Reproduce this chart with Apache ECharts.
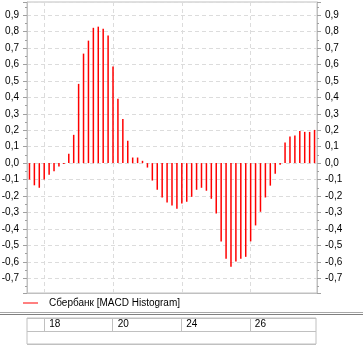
<!DOCTYPE html>
<html><head><meta charset="utf-8">
<script src="https://cdn.jsdelivr.net/npm/echarts@6/dist/echarts.min.js"></script>
<style>html,body{margin:0;padding:0;background:#fff}#c{width:363px;height:350px}</style>
</head><body><div id="c"></div>
<script>
const seriesName = 'Сбербанк [MACD Histogram]';
const histogram = [
  -0.100, -0.135, -0.150, -0.100, -0.070, -0.050, -0.020, -0.005, 0.057, 0.172,
   0.482,  0.666,  0.745,  0.823,  0.830,  0.818,  0.776,  0.587, 0.391, 0.269,
   0.136,  0.034,  0.034,  0.014, -0.027, -0.106, -0.162, -0.209, -0.239, -0.258,
  -0.278, -0.245, -0.235, -0.205, -0.162, -0.150, -0.168, -0.217, -0.306, -0.476,
  -0.582, -0.630, -0.598, -0.582, -0.570, -0.476, -0.379, -0.296, -0.209, -0.137,
  -0.064, -0.010,  0.125,  0.162,  0.168,  0.196,  0.190,  0.190, 0.202
];
const categories = histogram.map((_, i) => 'bar' + (i + 1));
const dayTickIndex = [3, 17, 31, 45];
const dayTickLabels = ['18', '20', '24', '26'];
const yMin = -0.79, yMax = 0.98, yStep = 0.1;

const FONT = "'Liberation Sans', Arial, sans-serif";
const frameColor = '#c0c0c0';
const tickColor = '#a0a0a0';
const gridColor = '#dcdcdc';

function yAxis(pos, showSplit) {
  return {
    type: 'value', gridIndex: 0, position: pos,
    min: yMin, max: yMax, splitNumber: 18, minInterval: yStep, maxInterval: yStep,
    axisLine: { show: true, onZero: false, lineStyle: { color: frameColor } },
    axisTick: { show: true, length: 4, lineStyle: { color: tickColor } },
    minorTick: { show: true, splitNumber: 2, length: 2, lineStyle: { color: tickColor } },
    minorSplitLine: { show: false },
    axisLabel: {
      show: true, showMinLabel: false, showMaxLabel: false, margin: 8,
      color: '#000', fontSize: 10, fontFamily: FONT,
      formatter: v => v.toFixed(1).replace('.', ',')
    },
    splitLine: { show: showSplit, lineStyle: { color: gridColor, type: [4, 3] } }
  };
}
const isDayTick = (i) => dayTickIndex.indexOf(i) >= 0;

const chart = echarts.init(document.getElementById('c'), null, { renderer: 'canvas' });
chart.setOption({
  animation: false,
  backgroundColor: '#fff',
  grid: [
    { left: 27, top: 2, width: 290, height: 291, show: true, borderColor: frameColor, borderWidth: 1, outerBoundsMode: 'none', containLabel: false },
    { left: 27, top: 318, width: 289, height: 26, show: true, borderColor: frameColor, borderWidth: 1, outerBoundsMode: 'none', containLabel: false }
  ],
  legend: {
    left: 23, top: 298, padding: 0, itemWidth: 15, itemHeight: 1, icon: 'rect',
    textStyle: { fontSize: 10, color: '#000', fontFamily: FONT, padding: [0, 0, 0, 6] },
    data: [{ name: seriesName, itemStyle: { color: '#ff0000' } }]
  },
  xAxis: [
    {
      type: 'category', gridIndex: 0, data: categories, boundaryGap: true, position: 'bottom',
      axisLine: { show: true, onZero: false, lineStyle: { color: frameColor } },
      axisTick: { show: true, inside: true, alignWithLabel: true, length: 291,
        interval: (i) => isDayTick(i), lineStyle: { color: gridColor, type: [4, 3] } },
      axisLabel: { show: false },
      splitLine: { show: false }
    },
    {
      type: 'category', gridIndex: 1, data: categories, boundaryGap: true, position: 'top',
      axisLine: { show: false, onZero: false },
      axisTick: { show: true, inside: true, alignWithLabel: true, length: 13,
        interval: (i) => isDayTick(i), lineStyle: { color: frameColor } },
      axisLabel: {
        show: true, inside: true, margin: 1, align: 'left', padding: [0, 0, 0, 5],
        interval: (i) => isDayTick(i),
        formatter: (v, i) => dayTickLabels[dayTickIndex.indexOf(i)] || '',
        color: '#000', fontSize: 10, fontFamily: FONT
      },
      splitLine: { show: false }
    }
  ],
  yAxis: [
    yAxis('left', true),
    yAxis('right', false),
    {
      type: 'value', gridIndex: 1, min: 0, max: 2, interval: 1,
      axisLine: { show: false, onZero: false }, axisTick: { show: false }, axisLabel: { show: false },
      splitLine: { show: true, lineStyle: { color: frameColor } }
    }
  ],
  graphic: [
    { type: 'line', shape: { x1: 0, y1: 312.5, x2: 363, y2: 312.5 }, style: { stroke: '#a8a8a8', lineWidth: 1 }, silent: true },
    { type: 'line', shape: { x1: 0, y1: 314.5, x2: 363, y2: 314.5 }, style: { stroke: '#808080', lineWidth: 1 }, silent: true }
  ],
  series: [{
    name: seriesName, type: 'bar', xAxisIndex: 0, yAxisIndex: 0,
    data: histogram, barWidth: 1.5, itemStyle: { color: '#ff0000' }, z: 2
  }]
});
</script></body></html>
